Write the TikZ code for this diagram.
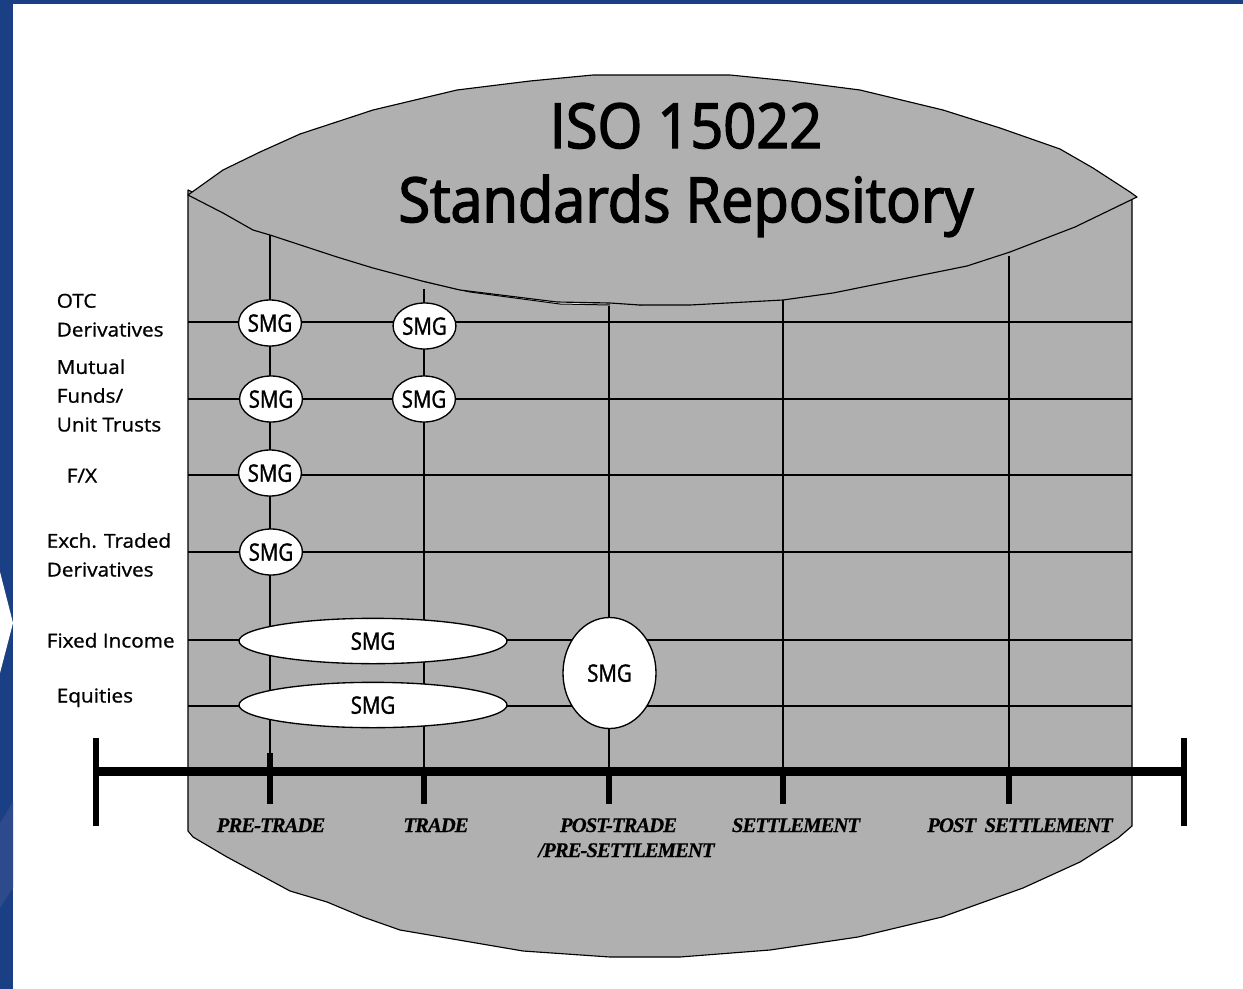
\documentclass[tikz,border=0pt]{standalone}
\usepackage{fontspec}
\setmainfont[FakeStretch=1.08,FakeBold=0.9]{Open Sans}
\newfontfamily\titlefont[FakeStretch=0.93,FakeBold=2.4]{Open Sans}
\newfontfamily\smgfont[FakeStretch=0.85,FakeBold=1.4]{Open Sans}
\newfontfamily\phasefont[LetterSpace=-5,FakeBold=0.5]{Liberation Serif}
\usetikzlibrary{shapes.geometric}
\definecolor{band}{RGB}{27,63,133}
\definecolor{bandlight}{RGB}{44,74,140}
\definecolor{drum}{RGB}{176,176,176}
\pgfdeclarelayer{bodylayer}
\pgfdeclarelayer{gridlayer}
\pgfsetlayers{bodylayer,gridlayer,main}
\tikzset{
  x=0.75pt,y=-0.75pt,
  outline/.style={draw=black,line width=0.85pt,line join=round,fill=drum},
  gridline/.style={draw=black,line width=0.95pt},
  axisbar/.style={draw=black,line width=6.75pt},
  endbar/.style={draw=black,line width=4.6pt},
  tickbar/.style={draw=black,line width=4.4pt},
  smg/.style={ellipse,draw=black,line width=1pt,fill=white,inner sep=0pt,text depth=0pt,font=\smgfont\fontsize{18}{20}\selectfont},
  smgsmall/.style={smg,minimum width=46.5pt,minimum height=34.5pt},
  smgwide/.style={smg,minimum width=201pt,minimum height=34pt},
  smgtall/.style={smg,minimum width=69.75pt,minimum height=83.25pt},
  rowlabel/.style={anchor=base west,align=left,inner sep=0pt,font=\fontsize{14.4}{21.6}\selectfont},
  phase/.style={anchor=base,align=center,inner sep=0pt,font=\phasefont\bfseries\itshape\fontsize{15.6}{18.75}\selectfont},
  titletext/.style={anchor=base,align=center,inner sep=0pt,font=\titlefont\fontsize{46.5}{55.5}\selectfont}
}
\begin{document}
\begin{tikzpicture}
\useasboundingbox (0,0) rectangle (1243,989);
% frame of the slide
\begin{pgfonlayer}{bodylayer}
\fill[white] (0,0) rectangle (1243,989);
\fill[band] (0,0) rectangle (1243,4);
\fill[band] (0,0) rectangle (13,989);
\fill[white] (0,572) -- (13,623) -- (0,673) -- cycle;
\fill[bandlight] (0,823) -- (13,802) -- (13,888) -- (0,908) -- cycle;
% drum body
\path[outline] (188,190) -- (188,831) -- (193,837) -- (227,857) -- (290,891) -- (327,902) -- (363,917) -- (400,930) -- (523,951) -- (610,957) -- (680,957) -- (770,950) -- (858,937) -- (942,917) -- (1023,888) -- (1080,862) -- (1118,838) -- (1132,826) -- (1132,197) -- (640,305) -- (197,194) -- cycle;
\fill[white] (422,281) -- (470,292) -- (560,304) -- (610,305) -- (557,302) -- (460,290) -- cycle;
\draw[line width=0.75pt] (422,281) -- (470,292) -- (560,304) -- (610,305);
% lid
\path[outline] (188,195) -- (223,170) -- (260,152) -- (300,134) -- (373,110) -- (457,90) -- (530,81) -- (593,75) -- (730,75) -- (790,81) -- (860,90) -- (943,110) -- (1000,128) -- (1060,149) -- (1093,168) -- (1130,192) -- (1137,197) -- (1075,227) -- (1010,252) -- (967,266) -- (833,293) -- (783,300) -- (690,305) -- (640,305) -- (610,303) -- (557,302) -- (460,290) -- (422,281) -- (373,268) -- (337,257) -- (270,235) -- (253,230) -- (223,213) -- cycle;
\end{pgfonlayer}
% row and column ends
\foreach \n/\yy in {1/322,2/399,3/475,4/552,5/640,6/706}{
  \coordinate (rowA\n) at (188,\yy);
  \coordinate (rowB\n) at (1132,\yy);
}
\foreach \n/\xx/\yy in {1/270/235,2/424/289,3/609/306,4/783/300,5/1009/256}{
  \coordinate (colA\n) at (\xx,\yy);
  \coordinate (colB\n) at (\xx,771);
  \coordinate (tickB\n) at (\xx,804);
}
\coordinate (tickA1) at (270,753);
\foreach \n in {2,3,4,5}{\coordinate (tickA\n) at (colB\n);}
\coordinate (axisL) at (96,771);
\coordinate (axisR) at (1184,771);
\coordinate (axisLa) at (96,738);
\coordinate (axisLb) at (96,826);
\coordinate (axisRa) at (1184,738);
\coordinate (axisRb) at (1184,826);
\begin{pgfonlayer}{gridlayer}
\foreach \n in {1,...,6}{\draw[gridline] (rowA\n) -- (rowB\n);}
\foreach \n in {1,...,5}{\draw[gridline] (colA\n) -- (colB\n);}
\end{pgfonlayer}
% axis
\draw[axisbar] (axisL) -- (axisR);
\draw[endbar] (axisLa) -- (axisLb);
\draw[endbar] (axisRa) -- (axisRb);
\foreach \n in {1,...,5}{\draw[tickbar] (tickA\n) -- (tickB\n);}
% SMG nodes
\node[smgsmall] (otcA) at (270,323) {SMG};
\node[smgsmall] (otcB) at (424.5,326) {SMG};
\node[smgsmall] (mfA) at (271,399) {SMG};
\node[smgsmall] (mfB) at (424,399) {SMG};
\node[smgsmall] (fx) at (270,473) {SMG};
\node[smgsmall] (etd) at (271,552) {SMG};
\node[smgwide] (fi) at (373,641) {SMG};
\node[smgwide] (eq) at (373,705) {SMG};
\node[smgtall] (post) at (609.5,673) {SMG};
% title
\node[titletext] (title) at (686,222) {ISO 15022\\Standards Repository};
% row labels
\node[rowlabel] (lotc) at (56.5,336.5) {OTC\\Derivatives};
\node[rowlabel] (lmf) at (56.5,431.5) {Mutual\\Funds/\\Unit Trusts};
\node[rowlabel] (lfx) at (66.5,482.5) {F/X};
\node[rowlabel] (letd) at (46.5,576.5) {Exch. Traded\\Derivatives};
\node[rowlabel] (lfi) at (46.5,647.5) {Fixed Income};
\node[rowlabel] (leq) at (56.5,702.5) {Equities};
% phase labels
\node[phase] (p1) at (271,832) {PRE-TRADE};
\node[phase] (p2) at (436,832) {TRADE};
\node[phase] (p3) at (626.5,857) {POST-TRADE\hspace*{12pt}\\/PRE-SETTLEMENT};
\node[phase] (p4) at (796,832) {SETTLEMENT};
\node[phase] (p5) at (1020,832) {POST\ \ SETTLEMENT};
\end{tikzpicture}
\end{document}
